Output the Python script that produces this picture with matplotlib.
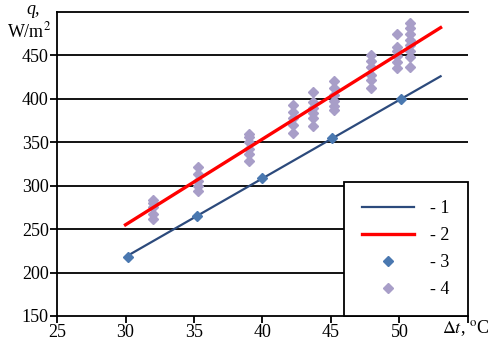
import matplotlib.pyplot as plt

plt.rcParams['font.family'] = ['Liberation Serif', 'DejaVu Serif']
plt.rcParams['mathtext.fontset'] = 'stix'

# line 1 / 2 (fits)
line1_x = [30, 53]
line1_y = [218, 426]
line2_x = [30, 53]
line2_y = [255, 482]

# series 3
pts3_x = [30.2, 35.2, 40.0, 45.1, 50.1]
pts3_y = [218, 265, 309, 355, 400]

# series 4 (clusters)
pts4_groups = [
    (32.0, [284, 280, 275, 268, 262]),
    (35.3, [321, 313, 306, 300, 294]),
    (39.0, [360, 356, 350, 342, 336, 329]),
    (42.2, [393, 385, 378, 370, 361]),
    (43.7, [408, 396, 390, 384, 378, 369]),
    (45.2, [420, 413, 405, 398, 392, 387]),
    (47.9, [451, 444, 437, 428, 422, 413]),
    (49.8, [475, 460, 455, 449, 442, 435]),
    (50.8, [487, 482, 475, 468, 462, 455, 448, 437]),
]
pts4_x = [g[0] for g in pts4_groups for _ in g[1]]
pts4_y = [v for g in pts4_groups for v in g[1]]

x_ticks = [25, 30, 35, 40, 45, 50]
y_ticks = [150, 200, 250, 300, 350, 400, 450]

fig = plt.figure(figsize=(4.91, 3.40), dpi=100)
ax = fig.add_axes([57/491, 1 - 316/340, (468 - 57)/491, (316 - 12)/340])

for y in y_ticks[1:]:
    ax.axhline(y, color='black', lw=1.3, zorder=1)

h1, = ax.plot(line1_x, line1_y, color='#2c4a7c', lw=1.6, zorder=3)
h2, = ax.plot(line2_x, line2_y, color='#ff0000', lw=2.4, zorder=4)
h3, = ax.plot(pts3_x, pts3_y, 'D', color='#4a78b0', ms=5, ls='none', zorder=5)
h4, = ax.plot(pts4_x, pts4_y, 'D', color='#a89ec8', ms=4.6, ls='none', zorder=2)

ax.set_xlim(25, 55)
ax.set_ylim(150, 500)
ax.set_xticks(x_ticks + [55])
ax.set_xticklabels([str(t) for t in x_ticks] + [''])
ax.set_yticks(y_ticks)
ax.tick_params(labelsize=13, length=5, width=1.3, color='black', pad=1)
ax.spines['right'].set_visible(False)
for s in ['left', 'bottom', 'top']:
    ax.spines[s].set_linewidth(1.3)

fig.text(33/491, 1 - 10/340, 'q,', fontsize=13, style='italic', ha='center', va='center')
fig.text(29/491, 1 - 31/340, 'W/m$^2$', fontsize=13, ha='center', va='center')
fig.text(489/491, 1 - 328/340, r'$\Delta$$\mathit{t}$, $^{\rm o}$C', fontsize=13, ha='right', va='center')

leg = ax.legend([h1, h2, h3, h4], ['- 1', '- 2', '- 3', '- 4'],
                loc='lower right', bbox_to_anchor=(1.0, 0.0), borderaxespad=0,
                fancybox=False, edgecolor='black', fontsize=13, handlelength=2.9,
                labelspacing=0.55, borderpad=1.0, handletextpad=0.9, framealpha=1)
leg.get_frame().set_linewidth(1.3)

fig.savefig('out.png', dpi=100)
